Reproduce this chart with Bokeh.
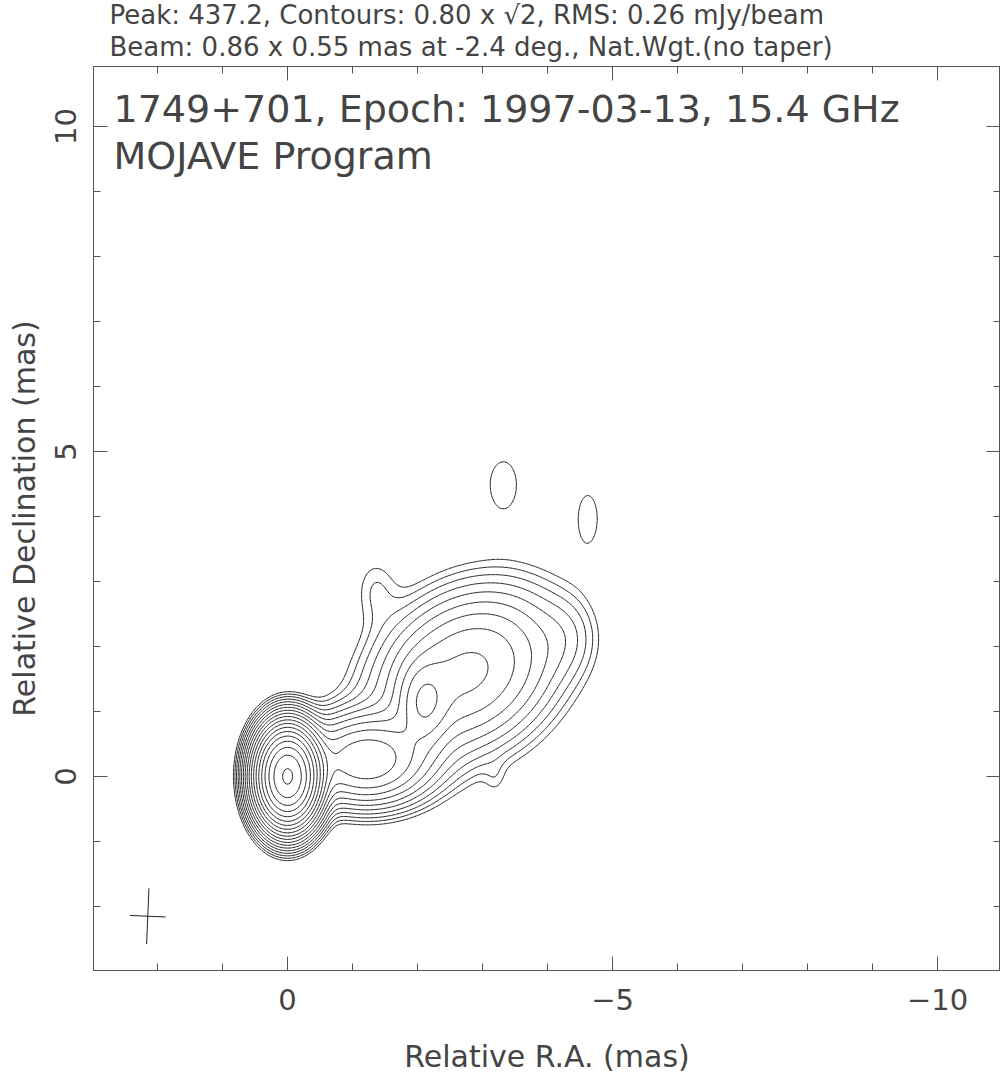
import numpy as np
from bokeh.plotting import figure
from bokeh.models import Range1d, FixedTicker, LinearAxis, Label, Title
from bokeh.embed import file_html
from bokeh.resources import INLINE

# ---- data ----
header_lines = [
    "Peak: 437.2, Contours: 0.80 x \u221a2, RMS: 0.26 mJy/beam",
    "Beam: 0.86 x 0.55 mas at -2.4 deg., Nat.Wgt.(no taper)",
]
source_lines = ["1749+701, Epoch: 1997-03-13, 15.4 GHz", "MOJAVE Program"]

peak = 437.2
base_level = 0.80
contour_levels = [base_level * np.sqrt(2.0) ** n for n in range(19)]

beam_major = 0.86
beam_minor = 0.55
beam_pa_deg = -2.4
beam_center = (2.15, -2.15)

# model components: RA offset (mas), Dec offset (mas), peak (mJy/beam),
# sigma along major (mas), sigma along minor (mas), angle of major axis (deg from west toward north)
comp_ra = [0.0, -1.2, -2.1, -2.75, -1.35, -4.3, -3.2, -3.32, -4.62]
comp_dec = [0.0, 0.25, 1.12, 1.6, 2.9, 2.15, -0.05, 4.49, 3.98]
comp_peak = [430.0, 23.5, 11.0, 14.0, 1.0, 1.1, 0.5, 1.1, 1.05]
comp_su = [0.234, 0.55, 0.22, 0.85, 0.24, 0.30, 0.12, 0.25, 0.19]
comp_sv = [0.365, 0.38, 0.36, 0.65, 0.38, 0.40, 0.20, 0.44, 0.46]
comp_ang = [0.0, 0.0, 0.0, 35.0, 0.0, 0.0, 0.0, 0.0, 0.0]

x_major = [-10, -5, 0]
x_minor = list(range(-11, 4))
y_major = [0, 5, 10]
y_minor = list(range(-3, 12))

# ---- brightness model ----
ra = np.linspace(-6.0, 2.0, 401)
dec = np.linspace(-2.5, 5.5, 401)
RA, DEC = np.meshgrid(ra, dec)
Z = np.zeros_like(RA)
for a0, d0, A, su, sv, ang in zip(comp_ra, comp_dec, comp_peak, comp_su, comp_sv, comp_ang):
    t = np.deg2rad(ang)
    dx = -(RA - a0)
    dy = DEC - d0
    u = dx * np.cos(t) + dy * np.sin(t)
    v = -dx * np.sin(t) + dy * np.cos(t)
    Z += A * np.exp(-0.5 * (u / su) ** 2 - 0.5 * (v / sv) ** 2)

FONT = "DejaVu Sans"
TXT = "#444444"

px_per_mas = 65.0
frame_l, frame_t, frame_r, frame_b = 93, 66, 1000, 970
x_left = 2.985
y_bottom = -2.985
W, H = 1000, 1078

p = figure(width=W, height=H,
           x_range=Range1d(x_left, x_left - (frame_r - frame_l) / px_per_mas),
           y_range=Range1d(y_bottom, y_bottom + (frame_b - frame_t) / px_per_mas),
           output_backend="svg", toolbar_location=None,
           min_border_left=frame_l, min_border_right=W - frame_r,
           min_border_top=frame_t, min_border_bottom=H - frame_b,
           background_fill_color="white", border_fill_color="white")
p.grid.visible = False
p.outline_line_color = "#555555"
p.outline_line_width = 1

p.contour(RA, DEC, Z, contour_levels, line_color="#222222", line_width=1.0, fill_color=None)

# beam cross
pa = np.deg2rad(beam_pa_deg)
bx, by = beam_center
p.segment(x0=[bx - 0.5 * beam_major * np.sin(pa), bx - 0.5 * beam_minor * np.cos(pa)],
          y0=[by - 0.5 * beam_major * np.cos(pa), by + 0.5 * beam_minor * np.sin(pa)],
          x1=[bx + 0.5 * beam_major * np.sin(pa), bx + 0.5 * beam_minor * np.cos(pa)],
          y1=[by + 0.5 * beam_major * np.cos(pa), by - 0.5 * beam_minor * np.sin(pa)],
          line_color="#222222", line_width=1.0)


def style_axis(ax, ticks, minor, labels=True):
    ax.ticker = FixedTicker(ticks=ticks, minor_ticks=minor)
    ax.major_tick_in = 14
    ax.major_tick_out = 0
    ax.minor_tick_in = 7
    ax.minor_tick_out = 0
    ax.major_tick_line_color = "#555555"
    ax.minor_tick_line_color = "#555555"
    ax.axis_line_color = "#555555"
    if labels:
        ax.major_label_text_font = FONT
        ax.major_label_text_font_size = "29px"
        ax.major_label_text_color = TXT
        ax.axis_label_text_font = FONT
        ax.axis_label_text_font_size = "30px"
        ax.axis_label_text_font_style = "normal"
        ax.axis_label_text_color = TXT
    else:
        ax.major_label_overrides = {t: "" for t in ticks}
        ax.major_label_standoff = 0


xa = p.xaxis[0]
style_axis(xa, x_major, x_minor)
xa.axis_label = "Relative R.A. (mas)"
xa.major_label_standoff = 18
xa.axis_label_standoff = 26

ya = p.yaxis[0]
style_axis(ya, y_major, y_minor)
ya.axis_label = "Relative Declination (mas)"
ya.major_label_orientation = "vertical"
ya.major_label_standoff = 17
ya.axis_label_standoff = 11

top = LinearAxis()
style_axis(top, x_major, x_minor, labels=False)
p.add_layout(top, "above")
right = LinearAxis()
style_axis(right, y_major, y_minor, labels=False)
p.add_layout(right, "right")

# header lines above the frame (nearest first)
for txt, so in zip(reversed(header_lines), [10, -11]):
    p.add_layout(Title(text=txt, align="left", offset=16, standoff=so,
                       text_font=FONT, text_font_size="26px", text_font_style="normal",
                       text_color=TXT), "above")


def px_to_ra(px):
    return x_left - (px - frame_l) / px_per_mas


def py_to_dec(py):
    return y_bottom + (frame_b - py) / px_per_mas


for txt, py in zip(source_lines, [108, 155]):
    p.add_layout(Label(x=px_to_ra(113), y=py_to_dec(py), text=txt, text_align="left",
                       text_baseline="middle", text_font=FONT, text_font_size="38px",
                       text_color=TXT))

open("out.html", "w").write(file_html(p, INLINE))
